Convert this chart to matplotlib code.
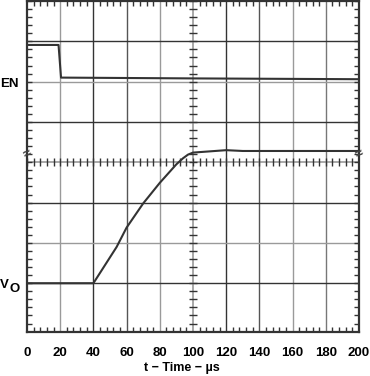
import numpy as np
import matplotlib
matplotlib.use("Agg")
import matplotlib.pyplot as plt

plt.rcParams['font.family'] = ['Liberation Sans', 'DejaVu Sans']
plt.rcParams['font.weight'] = 'bold'

en_t = [0, 19, 20.5, 100, 200]
en_v = [6.91, 6.91, 6.10, 6.08, 6.06]

vo_t = [0, 40, 47, 54, 60, 70, 80, 90, 94, 97, 100, 120, 130, 200]
vo_v = [1.0, 1.0, 1.45, 1.90, 2.38, 2.98, 3.49, 3.95, 4.10, 4.19, 4.24, 4.30, 4.28, 4.28]

x_ticks = [0, 20, 40, 60, 80, 100, 120, 140, 160, 180, 200]
y_grid = [1, 2, 3, 5, 6, 7]

dark = '#333333'
grey = '#9a9a9a'

fig = plt.figure(figsize=(3.7, 3.76), dpi=100)
ax = fig.add_axes([27/370, 1 - 332/376, 332/370, 331/376])
ax.set_xlim(0, 200)
ax.set_ylim(-0.21, 8)

# rejilla (algunas lineas se ven grises en el original)
x_grid_col = {20: grey, 40: dark, 60: '#555555', 80: grey, 120: dark, 140: '#555555', 160: grey, 180: '#777777'}
for x, c in x_grid_col.items():
    ax.axvline(x, color=c, lw=1.0, zorder=1)
y_grid_col = {7: dark, 6: grey, 5: dark, 3: dark, 2: grey, 1: dark}
for y in y_grid:
    ax.axhline(y, color=y_grid_col[y], lw=1.0, zorder=1)

# ejes centrales con marcas
ax.axhline(4, color=grey, lw=1.2, zorder=1)
ax.axvline(100, color=grey, lw=1.2, zorder=1)
mx = np.arange(0, 201, 4)
ax.plot(mx, np.full(len(mx), 4), ls='', marker='|', ms=6, mew=1.0, color=dark, zorder=2)
my = np.arange(0, 8.01, 0.2)
ax.plot(np.full(len(my), 100), my, ls='', marker='_', ms=6, mew=1.0, color=dark, zorder=2)

# trazas
ax.plot(en_t, en_v, color=dark, lw=1.5, zorder=3)
ax.plot(vo_t, vo_v, color=dark, lw=1.5, zorder=3)

# marcas del borde
ax.set_xticks(x_ticks)
ax.set_xticks(mx, minor=True)
ax.set_yticks([])
ax.set_yticks(my, minor=True)
ax.tick_params(axis='x', which='major', length=0, pad=11, labelsize=9.5)
ax.tick_params(which='minor', direction='in', length=3.5, width=1.0, color=dark,
               top=True, bottom=True, left=True, right=True)
for lab in ax.get_xticklabels():
    lab.set_fontweight('bold')
for s in ax.spines.values():
    s.set_linewidth(1.6)
    s.set_color(dark)

# titulo del eje x (algo desplazado a la izquierda como en el original)
fig.text(182/370, 1 - 368/376, 't − Time − µs', ha='center', va='center',
         fontsize=9, fontweight='bold')

# etiquetas de canal
ax.text(-27/332, 5.93, 'EN', transform=ax.get_yaxis_transform(), ha='left', va='center',
        fontsize=9.5, fontweight='bold')
ax.text(-27/332, 0.95, 'V', transform=ax.get_yaxis_transform(), ha='left', va='center',
        fontsize=9.5, fontweight='bold')
ax.text(-17/332, 0.85, 'O', transform=ax.get_yaxis_transform(), ha='left', va='center',
        fontsize=9.5, fontweight='bold')

# simbolos de corte
for xa in (0, 1):
    ax.text(xa, 4.22, '≈', transform=ax.get_yaxis_transform(), ha='center', va='center',
            fontsize=10, rotation=25, color='#444444', clip_on=False, zorder=4)

fig.savefig('out.png', dpi=100)
